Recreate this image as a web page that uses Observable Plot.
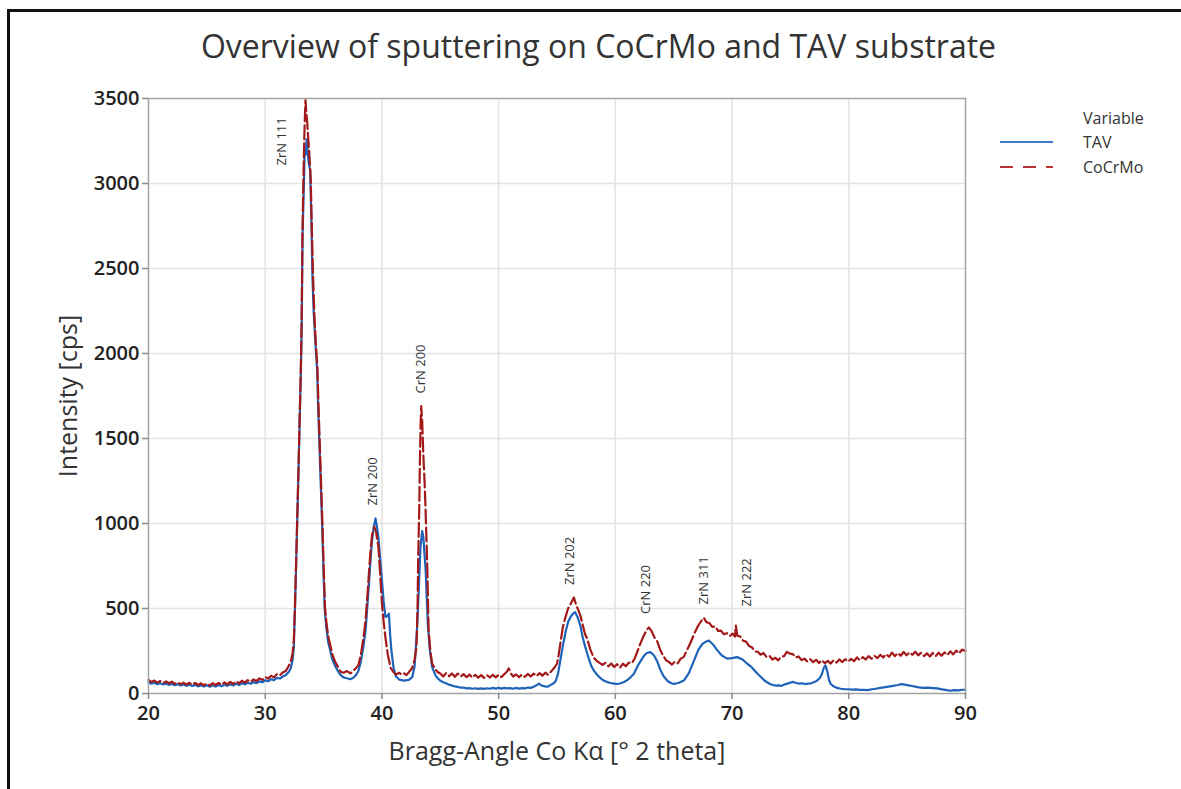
<!DOCTYPE html>
<html><head><meta charset="utf-8">
<script src="https://cdn.jsdelivr.net/npm/d3@7"></script>
<script src="https://cdn.jsdelivr.net/npm/@observablehq/plot@0.6"></script>
<style>
html,body{margin:0;padding:0;background:#fff;overflow:hidden;}
#wrap{position:relative;width:1181px;height:789px;overflow:hidden;font-family:"Open Sans",sans-serif;color:#333;}
#btop{position:absolute;left:7px;top:9px;width:1174px;height:3px;background:#111;}
#bleft{position:absolute;left:7px;top:9px;width:3px;height:780px;background:#111;}
#title{position:absolute;left:0;width:1197px;top:24px;text-align:center;font-size:32px;color:#333;white-space:nowrap;}
#chart{position:absolute;left:0;top:0;}
.leg{position:absolute;font-size:16px;color:#333;white-space:nowrap;line-height:20px;}
.sw{position:absolute;}
</style></head>
<body><div id="wrap">
<div id="btop"></div><div id="bleft"></div>
<div id="chart"></div>
<div id="title">Overview of sputtering on CoCrMo and TAV substrate</div>
<div id="legend"></div>
</div>
<script>
// ---- data ----
const xTicks = [20, 30, 40, 50, 60, 70, 80, 90];
const yTicks = [0, 500, 1000, 1500, 2000, 2500, 3000, 3500];
const seriesNames = ["TAV", "CoCrMo"];
const seriesColors = ["#1f63b8", "#a31818"];

// TAV (blue, solid)
const tavLow = [[20,66],[20.25,58],[20.5,63],[20.75,55],[21,61],[21.25,53],[21.5,58],[21.75,51],[22,56],[22.25,49],[22.5,55],[22.75,47],[23,53],[23.25,45],[23.5,51],[23.75,44],[24,50],[24.25,42],[24.5,49],[24.75,41],[25,48],[25.25,40],[25.5,48],[25.75,41],[26,50],[26.25,43],[26.5,52],[26.75,45],[27,54],[27.25,47],[27.5,57],[27.75,50],[28,60],[28.25,54],[28.5,63],[28.75,57],[29,67],[29.25,61],[29.5,71],[29.75,66],[30,78],[30.25,72],[30.5,84],[30.75,79],[31,92],[31.25,88],[31.5,100],[31.75,108],[32,125]];
const tavPeaks1 = [[32.2,150],[32.35,200],[32.45,270],[32.55,500],[32.65,760],[32.75,1030],[32.85,1300],[32.95,1600],[33.05,1880],[33.12,2120],[33.2,2690],[33.3,2950],[33.38,3190],[33.47,3170],[33.55,3260],[33.63,3200],[33.72,3120],[33.85,3080],[33.95,2800],[34.05,2440],[34.15,2250],[34.3,2060],[34.45,1900],[34.55,1650],[34.7,1350],[34.8,1150],[34.9,940],[35,700],[35.1,490],[35.25,380],[35.4,300],[35.55,260],[35.75,200],[36,160],[36.2,135],[36.45,110],[36.7,95],[37,90],[37.3,84],[37.6,95],[37.8,110],[38,135],[38.2,190],[38.4,270],[38.6,370],[38.8,560],[39,760],[39.15,900],[39.3,980],[39.45,1030],[39.55,990],[39.7,920],[39.85,790],[40,665],[40.15,540],[40.3,450],[40.45,455],[40.6,470],[40.7,350],[40.8,260],[41,150],[41.2,100],[41.5,82],[41.9,76],[42.3,80],[42.6,96],[42.8,160],[43,370],[43.15,600],[43.3,860],[43.45,955],[43.55,920],[43.65,820],[43.75,720],[43.93,410],[44.1,260]];
const tavMid = [[44.3,155],[44.6,105],[44.8,88],[45,76],[45.25,66],[45.5,60],[45.75,52],[46,47],[46.25,42],[46.5,39],[46.75,34],[47,35],[47.25,30],[47.5,32],[47.75,28],[48,31],[48.25,27],[48.5,30],[48.75,27],[49,31],[49.25,28],[49.5,33],[49.75,29],[50,34],[50.25,29],[50.5,33],[50.75,30],[51,32],[51.25,28],[51.5,33],[51.75,29],[52,32],[52.25,30],[52.5,35],[52.75,33],[53,40],[53.25,48],[53.45,58],[53.7,46],[53.95,42],[54.2,40],[54.5,52],[54.75,62],[54.9,75]];
const tavPeaks2 = [[55.1,120],[55.3,200],[55.5,280],[55.73,360],[55.95,420],[56.16,450],[56.35,468],[56.55,478],[56.75,452],[57,400],[57.2,330],[57.44,270],[57.7,210],[57.95,160],[58.2,130],[58.44,110],[58.73,90],[59,76],[59.3,67],[59.6,62],[59.9,58],[60.2,56],[60.44,60],[60.7,66],[61,78],[61.3,95],[61.58,115],[61.9,160],[62.2,195],[62.44,220],[62.7,238],[63,243],[63.3,225],[63.58,190],[63.85,140],[64.15,100],[64.5,72],[64.8,60],[65,57],[65.4,62],[65.87,76],[66.3,120],[66.72,190],[67.1,255],[67.44,290],[67.75,305],[68,312],[68.35,290],[68.72,255],[69.1,225],[69.58,205],[70,208],[70.44,214],[70.9,200],[71.3,175],[71.6,160]];
const tavHigh = [[72,130],[72.25,112],[72.5,96],[72.75,78],[73,66],[73.25,56],[73.5,50],[73.75,46],[74,48],[74.25,45],[74.5,54],[74.75,58],[75,64],[75.25,68],[75.5,62],[75.75,58],[76,60],[76.25,55],[76.5,58],[76.75,60],[77,66],[77.25,74],[77.5,90],[77.7,115],[77.85,150],[78,165],[78.15,132],[78.3,82],[78.45,56],[78.7,42],[79,33],[79.3,28],[79.6,26],[80,25],[80.3,23],[80.6,24],[81,21],[81.3,22],[81.6,20],[82,25],[82.3,28],[82.7,33],[83,36],[83.4,40],[83.8,45],[84.2,50],[84.5,55],[84.8,52],[85.1,48],[85.4,44],[85.7,40],[86,36],[86.4,33],[86.8,34],[87.2,32],[87.6,30],[88,24],[88.4,20],[88.7,16],[89,20],[89.4,18],[89.7,22],[90,22]];

// CoCrMo (red, dashed)
const cocLow = [[20,80],[20.25,68],[20.5,76],[20.75,64],[21,74],[21.25,62],[21.5,71],[21.75,60],[22,70],[22.25,57],[22.5,66],[22.75,55],[23,64],[23.25,52],[23.5,63],[23.75,50],[24,62],[24.25,49],[24.5,60],[24.75,48],[25,59],[25.25,47],[25.5,61],[25.75,50],[26,63],[26.25,51],[26.5,66],[26.75,54],[27,68],[27.25,56],[27.5,72],[27.75,60],[28,75],[28.25,64],[28.5,79],[28.75,68],[29,83],[29.25,73],[29.5,89],[29.75,80],[30,97],[30.25,88],[30.5,104],[30.75,95],[31,113],[31.25,106],[31.5,124],[31.75,132],[32,160]];
const cocPeaks1 = [[32.2,190],[32.35,240],[32.45,310],[32.55,520],[32.65,780],[32.75,1050],[32.85,1320],[32.95,1620],[33.05,1900],[33.12,2200],[33.2,2750],[33.28,3050],[33.36,3300],[33.45,3490],[33.52,3420],[33.6,3360],[33.7,3250],[33.8,3150],[33.9,3020],[34,2720],[34.1,2450],[34.2,2250],[34.32,2080],[34.47,1920],[34.57,1680],[34.72,1380],[34.82,1170],[34.92,960],[35.02,720],[35.12,510],[35.27,400],[35.42,330],[35.57,285],[35.75,230],[36,185],[36.2,160],[36.45,128],[36.7,122],[37,132],[37.3,118],[37.6,138],[37.8,150],[38,170],[38.2,230],[38.4,320],[38.6,430],[38.8,620],[39,820],[39.15,930],[39.35,980],[39.5,950],[39.7,860],[39.85,700],[40,530],[40.15,420],[40.3,330],[40.5,230],[40.75,150],[41,125],[41.2,112],[41.5,122],[41.7,110],[41.9,118],[42.1,108],[42.3,125],[42.6,150],[42.8,200],[42.96,272],[43.05,500],[43.1,763],[43.2,1100],[43.25,1353],[43.32,1600],[43.37,1690],[43.45,1600],[43.55,1400],[43.65,1253],[43.73,1100],[43.82,900],[43.88,763],[44,370],[44.15,250],[44.3,176]];
const cocMid = [[44.6,140],[44.8,125],[45,118],[45.25,100],[45.5,120],[45.75,102],[46,118],[46.25,98],[46.5,117],[46.75,100],[47,114],[47.25,96],[47.5,112],[47.75,94],[48,110],[48.25,93],[48.5,108],[48.75,92],[49,108],[49.25,94],[49.5,110],[49.75,95],[50,110],[50.25,97],[50.5,115],[50.7,128],[50.87,148],[51,122],[51.25,100],[51.5,112],[51.75,96],[52,112],[52.25,98],[52.5,115],[52.75,100],[53,117],[53.25,102],[53.5,120],[53.75,105],[54,122],[54.25,110],[54.5,130],[54.75,150]];
const cocPeaks2 = [[55,175],[55.15,230],[55.3,300],[55.5,390],[55.73,450],[55.95,500],[56.16,525],[56.3,545],[56.45,565],[56.6,530],[56.8,495],[57,460],[57.2,405],[57.4,350],[57.6,320],[57.85,260]];
const cocHigh = [[58.15,210],[58.4,192],[58.65,180],[58.9,168],[59.15,180],[59.4,160],[59.65,176],[59.9,156],[60.15,172],[60.4,152],[60.65,176],[60.9,160],[61.15,182],[61.4,178],[61.65,205],[61.9,250],[62.15,295],[62.4,335],[62.65,370],[62.87,388],[63.1,368],[63.35,330],[63.6,305],[63.85,255],[64.1,222],[64.35,195],[64.6,185],[64.85,170],[65.1,188],[65.35,178],[65.6,205],[65.85,214],[66.1,250],[66.35,285],[66.6,325],[66.85,365],[67.1,400],[67.35,425],[67.58,445],[67.8,420],[68.05,415],[68.3,392],[68.55,395],[68.8,368],[69.05,370],[69.3,348],[69.55,355],[69.8,338],[70.05,352],[70.25,335],[70.32,400],[70.45,340],[70.7,335],[70.95,310],[71.2,305],[71.45,280],[71.7,272],[71.95,248],[72.2,245],[72.45,228],[72.7,238],[72.95,215],[73.2,222],[73.45,200],[73.7,210],[73.95,195],[74.2,215],[74.45,220],[74.7,245],[74.95,235],[75.2,232],[75.45,212],[75.7,218],[75.95,196],[76.2,205],[76.45,188],[76.7,202],[76.95,184],[77.2,198],[77.45,180],[77.7,196],[77.95,178],[78.2,192],[78.45,176],[78.7,196],[78.95,182],[79.2,200],[79.45,185],[79.7,202],[79.95,188],[80.2,204],[80.45,190],[80.7,212],[80.95,196],[81.2,214],[81.45,200],[81.7,220],[81.95,204],[82.2,222],[82.45,208],[82.7,228],[82.95,212],[83.2,232],[83.45,216],[83.7,240],[83.95,220],[84.2,238],[84.45,222],[84.7,245],[84.95,225],[85.2,242],[85.45,228],[85.7,246],[85.95,224],[86.2,240],[86.45,220],[86.7,236],[86.95,218],[87.2,238],[87.45,220],[87.7,240],[87.95,222],[88.2,242],[88.45,226],[88.7,248],[88.95,230],[89.2,252],[89.45,236],[89.7,258],[90,250]];

// peak annotations
const peakNames = ["ZrN 111", "ZrN 200", "CrN 200", "ZrN 202", "CrN 220", "ZrN 311", "ZrN 222"];
const peakAngles = [31.4, 39.2, 43.3, 56.1, 62.65, 67.6, 71.25];
const peakLabelLevel = [3106, 1106, 1765, 638, 468, 524, 512];

// ---- build ----
const tav = [...tavLow, ...tavPeaks1, ...tavMid, ...tavPeaks2, ...tavHigh].map(([x, y]) => ({x, y}));
const coc = [...cocLow, ...cocPeaks1, ...cocMid, ...cocPeaks2, ...cocHigh].map(([x, y]) => ({x, y}));
const peaks = peakNames.map((name, i) => ({name, x: peakAngles[i], y: peakLabelLevel[i]}));

const chart = Plot.plot({
  width: 1181, height: 789,
  marginLeft: 148, marginRight: 216, marginTop: 98, marginBottom: 96,
  style: {fontFamily: "'Open Sans', sans-serif", background: "transparent", color: "#222"},
  x: {domain: [20, 90], label: null},
  y: {domain: [0, 3500], label: null},
  marks: [
    Plot.gridX(xTicks.slice(1, -1), {stroke: "#e3e3e3", strokeOpacity: 1, strokeWidth: 1.6}),
    Plot.gridY(yTicks.slice(1, -1), {stroke: "#e3e3e3", strokeOpacity: 1, strokeWidth: 1.6}),
    Plot.line(tav, {x: "x", y: "y", stroke: seriesColors[0], strokeWidth: 2.2}),
    Plot.line(coc, {x: "x", y: "y", stroke: seriesColors[1], strokeWidth: 2.2, strokeDasharray: "14,4"}),
    Plot.frame({stroke: "#a3a3a3", strokeWidth: 1.5}),
    Plot.axisY(yTicks, {tickSize: 6, tickPadding: 3, fontSize: 20, fontWeight: 600, fill: "#222", stroke: "#8a8a8a", strokeWidth: 1.5, tickFormat: "d", label: null}),
    Plot.axisX(xTicks, {tickSize: 6, tickPadding: 6, fontSize: 20, fontWeight: 600, fill: "#222", stroke: "#8a8a8a", strokeWidth: 1.5, tickFormat: "d", label: null}),
    Plot.text(peaks, {x: "x", y: "y", text: "name", rotate: -90, textAnchor: "start", fontSize: 13, fill: "#333"}),
    Plot.text(["Bragg-Angle Co Kα [° 2 theta]"], {frameAnchor: "bottom", dy: 58, textAnchor: "middle", lineAnchor: "middle", fontSize: 25, fill: "#333"}),
    Plot.text(["Intensity [cps]"], {frameAnchor: "left", dx: -80, textAnchor: "middle", lineAnchor: "middle", rotate: -90, fontSize: 25, fill: "#333"})
  ]
});
document.getElementById("chart").appendChild(chart);

// legend
const legend = document.getElementById("legend");
function addLeg(text, left, top) {
  const d = document.createElement("div");
  d.className = "leg"; d.style.left = left + "px"; d.style.top = top + "px"; d.textContent = text;
  legend.appendChild(d);
}
addLeg("Variable", 1083, 108);
const dashes = ["", "13,10"];
seriesNames.forEach((name, i) => {
  const top = 132 + i * 25;
  addLeg(name, 1083, top);
  const ns = "http://www.w3.org/2000/svg";
  const s = document.createElementNS(ns, "svg");
  s.setAttribute("class", "sw"); s.setAttribute("width", 56); s.setAttribute("height", 6);
  s.style.left = "999px"; s.style.top = (top + 7) + "px";
  const l = document.createElementNS(ns, "line");
  l.setAttribute("x1", 1); l.setAttribute("x2", 54); l.setAttribute("y1", 3); l.setAttribute("y2", 3);
  l.setAttribute("stroke", i === 0 ? "#3a7cc9" : "#b83434");
  l.setAttribute("stroke-width", 2);
  if (dashes[i]) l.setAttribute("stroke-dasharray", dashes[i]);
  s.appendChild(l);
  legend.appendChild(s);
});
</script>
</body></html>
